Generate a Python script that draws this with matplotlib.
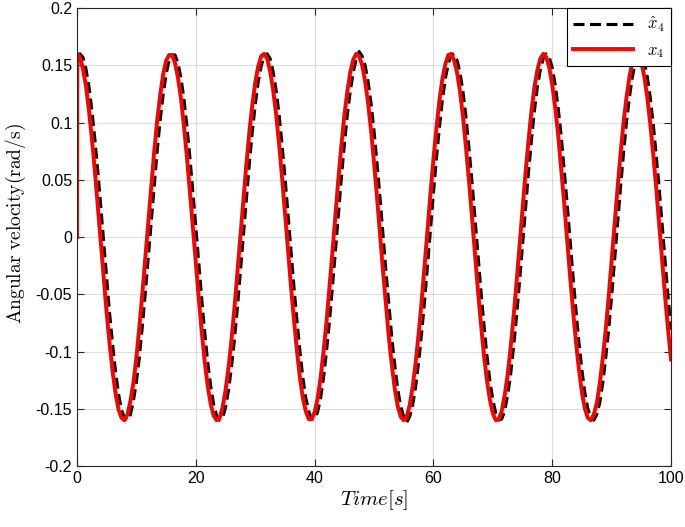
import numpy as np
import matplotlib
matplotlib.use("Agg")
import matplotlib.pyplot as plt
from matplotlib.ticker import FuncFormatter

plt.rcParams['font.family'] = ['Liberation Sans', 'DejaVu Sans']
plt.rcParams['mathtext.fontset'] = 'cm'
plt.rcParams['axes.unicode_minus'] = False

# sample times: start point, the jump just after it, then every 0.5 s up to 100 s
time = np.concatenate(([0.0, 0.05], np.arange(0.5, 100.001, 0.5)))

# x4 (red)
x4 = [
	0.0, 0.160,
	0.157, 0.147, 0.132, 0.111, 0.086, 0.058, 0.027, -0.005, -0.036, -0.067,
	-0.094, -0.118, -0.137, -0.151, -0.158, -0.160, -0.155, -0.143, -0.127, -0.105,
	-0.078, -0.049, -0.018, 0.014, 0.045, 0.075, 0.102, 0.124, 0.142, 0.154,
	0.159, 0.159, 0.152, 0.139, 0.121, 0.097, 0.070, 0.040, 0.009, -0.023,
	-0.054, -0.083, -0.109, -0.130, -0.146, -0.156, -0.160, -0.158, -0.149, -0.134,
	-0.114, -0.090, -0.062, -0.031, 0.001, 0.032, 0.063, 0.091, 0.115, 0.135,
	0.149, 0.158, 0.160, 0.156, 0.145, 0.129, 0.108, 0.082, 0.053, 0.022,
	-0.010, -0.042, -0.071, -0.098, -0.122, -0.140, -0.152, -0.159, -0.159, -0.153,
	-0.141, -0.123, -0.100, -0.074, -0.044, -0.013, 0.019, 0.051, 0.080, 0.106,
	0.127, 0.144, 0.155, 0.160, 0.158, 0.150, 0.136, 0.117, 0.093, 0.065,
	0.035, 0.003, -0.029, -0.059, -0.088, -0.112, -0.133, -0.148, -0.157, -0.160,
	-0.157, -0.147, -0.131, -0.110, -0.085, -0.057, -0.026, 0.006, 0.038, 0.068,
	0.095, 0.119, 0.138, 0.151, 0.159, 0.160, 0.154, 0.143, 0.126, 0.104,
	0.077, 0.048, 0.017, -0.015, -0.047, -0.076, -0.103, -0.125, -0.142, -0.154,
	-0.160, -0.159, -0.152, -0.138, -0.120, -0.096, -0.069, -0.039, -0.007, 0.025,
	0.056, 0.084, 0.110, 0.131, 0.146, 0.156, 0.160, 0.157, 0.148, 0.133,
	0.113, 0.089, 0.060, 0.030, -0.002, -0.034, -0.064, -0.092, -0.116, -0.136,
	-0.150, -0.158, -0.160, -0.155, -0.145, -0.128, -0.106, -0.081, -0.052, -0.020,
	0.011, 0.043, 0.073, 0.100, 0.122, 0.140, 0.153, 0.159, 0.159, 0.153,
	0.140, 0.122, 0.099, 0.072, 0.043, 0.011, -0.021, -0.052, -0.081, -0.107,
]

# x4 hat (black dashed) - lags the red curve by about half a second
x4_hat = [
	0.0, 0.158,
	0.160, 0.157, 0.147, 0.132, 0.111, 0.086, 0.058, 0.027, -0.005, -0.036,
	-0.067, -0.094, -0.118, -0.137, -0.151, -0.158, -0.160, -0.155, -0.143, -0.127,
	-0.105, -0.078, -0.049, -0.018, 0.014, 0.045, 0.075, 0.102, 0.124, 0.142,
	0.154, 0.159, 0.159, 0.152, 0.139, 0.121, 0.097, 0.070, 0.040, 0.009,
	-0.023, -0.054, -0.083, -0.109, -0.130, -0.146, -0.156, -0.160, -0.158, -0.149,
	-0.134, -0.114, -0.090, -0.062, -0.031, 0.001, 0.032, 0.063, 0.091, 0.115,
	0.135, 0.149, 0.158, 0.160, 0.156, 0.145, 0.129, 0.108, 0.082, 0.053,
	0.022, -0.010, -0.042, -0.071, -0.098, -0.122, -0.140, -0.152, -0.159, -0.159,
	-0.153, -0.141, -0.123, -0.100, -0.074, -0.044, -0.013, 0.019, 0.051, 0.080,
	0.106, 0.127, 0.144, 0.155, 0.162, 0.158, 0.150, 0.136, 0.117, 0.093,
	0.065, 0.035, 0.003, -0.029, -0.059, -0.088, -0.112, -0.133, -0.148, -0.157,
	-0.162, -0.157, -0.147, -0.131, -0.110, -0.085, -0.057, -0.026, 0.006, 0.038,
	0.068, 0.095, 0.119, 0.138, 0.151, 0.159, 0.160, 0.154, 0.143, 0.126,
	0.104, 0.077, 0.048, 0.017, -0.015, -0.047, -0.076, -0.103, -0.125, -0.142,
	-0.154, -0.160, -0.159, -0.152, -0.138, -0.120, -0.096, -0.069, -0.039, -0.007,
	0.025, 0.056, 0.084, 0.110, 0.131, 0.146, 0.156, 0.160, 0.157, 0.148,
	0.133, 0.113, 0.089, 0.060, 0.030, -0.002, -0.034, -0.064, -0.092, -0.116,
	-0.136, -0.150, -0.158, -0.160, -0.155, -0.145, -0.128, -0.106, -0.081, -0.052,
	-0.020, 0.011, 0.043, 0.073, 0.100, 0.122, 0.140, 0.153, 0.159, 0.159,
	0.153, 0.140, 0.122, 0.099, 0.072, 0.043, 0.011, -0.021, -0.052, -0.081,
]

x_ticks = [0, 20, 40, 60, 80, 100]
y_ticks = [-0.2, -0.15, -0.1, -0.05, 0, 0.05, 0.1, 0.15, 0.2]

axis_gray = (0.15, 0.15, 0.15)

fig = plt.figure(figsize=(6.85, 5.27), dpi=100)
ax = fig.add_axes([0.1124, 0.1157, 0.8672, 0.8691])

ax.plot(time, x4_hat, color='black', lw=2.2, linestyle=(0, (3.6, 1.8)),
	label=r'$\hat{x}_4$')
ax.plot(time, x4, color='red', lw=2.8, label=r'$x_4$')

ax.set_xlim(0, 100)
ax.set_ylim(-0.2, 0.2)
ax.set_xticks(x_ticks)
ax.set_yticks(y_ticks)
ax.yaxis.set_major_formatter(FuncFormatter(lambda v, p: '%g' % round(v, 2)))

ax.grid(True, color=axis_gray, alpha=0.15, lw=0.8)
ax.tick_params(direction='in', length=5, width=0.8, colors=axis_gray,
	labelcolor='black', labelsize=11.5, top=True, right=True)
for s in ax.spines.values():
	s.set_color(axis_gray)
	s.set_linewidth(0.8)

ax.set_xlabel(r'$Time[s]$', fontsize=15, labelpad=2)
ax.set_ylabel(r'$\mathrm{Angular\ velocity(rad/s)}$', fontsize=14)
ax.yaxis.set_label_coords(-0.083, 0.53)

leg = ax.legend(loc='upper right', borderaxespad=0, fancybox=False,
	edgecolor='black', framealpha=1, fontsize=12, handlelength=3.6,
	borderpad=0.4, labelspacing=0.5)
leg.get_frame().set_linewidth(0.8)

fig.savefig('out.png', dpi=100)
